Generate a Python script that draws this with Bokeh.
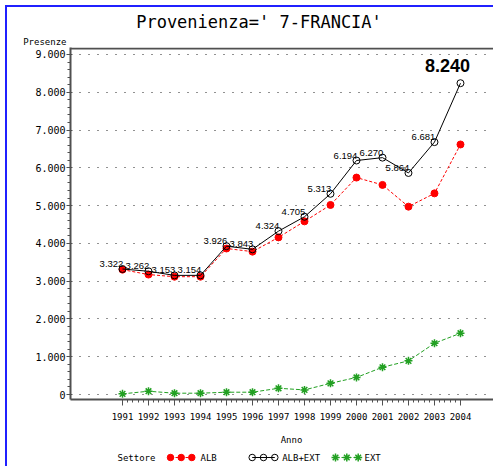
from bokeh.plotting import figure
from bokeh.models import Range1d, FixedTicker, Span
from bokeh.layouts import column
from bokeh.core.properties import value
from bokeh.embed import file_html
from bokeh.resources import INLINE

years = [1991, 1992, 1993, 1994, 1995, 1996, 1997, 1998, 1999, 2000, 2001, 2002, 2003, 2004]
alb_ext = [3322, 3262, 3153, 3154, 3926, 3843, 4324, 4705, 5313, 6194, 6270, 5864, 6681, 8240]
ext = [17, 87, 35, 35, 61, 61, 165, 122, 296, 452, 722, 891, 1357, 1622]
alb = [3305, 3175, 3118, 3119, 3865, 3782, 4159, 4583, 5017, 5742, 5548, 4973, 5324, 6618]
y_ticks = [0, 1000, 2000, 3000, 4000, 5000, 6000, 7000, 8000, 9000]
series_names = ["ALB", "ALB+EXT", "EXT"]
title_text = "Provenienza=' 7-FRANCIA'"
y_title = "Presenze"
x_title = "Anno"
legend_title = "Settore"

RED = "#FF0000"
GREEN = "#22A022"
AXIS = "#505050"
MONO = "DejaVu Sans Mono"
W = 486
LEFT = 63          # border left of every frame
X0 = 7 + LEFT      # page x of frame left
X1 = 7 + W         # page x of frame right

Y_START, Y_END = -132, 9185


def fmt(v):
    return f"{v:,}".replace(",", ".")


def strip(h, with_left_axis=False):
    f = figure(width=W, height=h, x_range=Range1d(X0, X1), y_range=Range1d(0, h),
               output_backend="svg", toolbar_location=None,
               min_border_left=LEFT, min_border_right=0, min_border_top=0, min_border_bottom=0,
               x_axis_location=None, y_axis_location="left" if with_left_axis else None)
    f.grid.visible = False
    f.outline_line_color = None
    return f


# ---------- title strip (page y 7..47) ----------
head = strip(40, with_left_axis=True)
head.text([258.5], [26], text=[title_text], text_font=value(MONO), text_font_size="17px",
          text_align="center", text_baseline="middle", text_color="black")
# the y-axis name sits just above the frame, written as the single label of a bare axis
head.yaxis.ticker = FixedTicker(ticks=[4])
head.yaxis.major_label_overrides = {4: y_title}
head.yaxis.major_label_text_font = MONO
head.yaxis.major_label_text_font_size = "9px"
head.yaxis.major_label_text_color = "black"
head.yaxis.axis_line_color = None
head.yaxis.major_tick_line_color = None
head.yaxis.minor_tick_line_color = None
head.yaxis.major_tick_out = 0
head.yaxis.major_tick_in = 0
head.yaxis.major_label_standoff = 4

# ---------- main plot (page y 47..428) ----------
p = figure(width=W, height=381,
           x_range=Range1d(1989, 2005.27), y_range=Range1d(Y_START, Y_END),
           output_backend="svg", toolbar_location=None,
           min_border_left=LEFT, min_border_right=0,
           min_border_top=0, min_border_bottom=29)
p.outline_line_color = None
p.xgrid.visible = False
p.ygrid.grid_line_color = "#222222"
p.ygrid.grid_line_dash = "1 8"
p.ygrid.grid_line_width = 1

p.yaxis.ticker = FixedTicker(ticks=y_ticks, minor_ticks=list(range(0, 9001, 200)))
p.yaxis.major_label_overrides = {v: fmt(v) for v in y_ticks}
p.yaxis.major_label_text_font = MONO
p.yaxis.major_label_text_font_size = "10px"
p.yaxis.major_label_text_color = "black"
p.yaxis.axis_line_color = AXIS
p.yaxis.axis_line_width = 2
p.yaxis.major_tick_line_color = AXIS
p.yaxis.minor_tick_line_color = AXIS
p.yaxis.major_tick_out = 4
p.yaxis.major_tick_in = 2
p.yaxis.minor_tick_out = 3
p.yaxis.minor_tick_in = 0
p.yaxis.major_label_standoff = 1

p.xaxis.ticker = FixedTicker(ticks=years,
                             minor_ticks=[years[0] + i * 0.2 for i in range(5 * (len(years) - 1) + 1)])
p.xaxis.major_label_text_font = MONO
p.xaxis.major_label_text_font_size = "9px"
p.xaxis.major_label_text_color = "black"
p.xaxis.axis_line_color = AXIS
p.xaxis.axis_line_width = 2
p.xaxis.major_tick_line_color = AXIS
p.xaxis.minor_tick_line_color = AXIS
p.xaxis.major_tick_out = 6
p.xaxis.major_tick_in = 0
p.xaxis.minor_tick_out = 3
p.xaxis.minor_tick_in = 0
p.xaxis.major_label_standoff = 7

# top frame line
p.add_layout(Span(location=9159, dimension="width", line_color=AXIS, line_width=2))

p.line(years, ext, color=GREEN, line_dash="4 2", line_width=1)
p.scatter(years, ext, marker="asterisk", size=8, line_color=GREEN, line_width=1.5)

p.line(years, alb, color=RED, line_dash="3 2", line_width=1)
p.scatter(years, alb, marker="circle", size=7, fill_color=RED, line_color=RED)

p.line(years, alb_ext, color="black", line_width=1)
p.scatter(years, alb_ext, marker="circle", size=7, fill_color=None, line_color="black",
          line_width=1)

p.text(years[:-1], alb_ext[:-1], text=[fmt(v) for v in alb_ext[:-1]],
       text_font=value("Liberation Sans"), text_font_size="9.5px",
       text_align="center", text_baseline="bottom", x_offset=-11, y_offset=-2,
       text_color="black")
p.text(years[-1:], alb_ext[-1:], text=[fmt(v) for v in alb_ext[-1:]],
       text_font=value("Liberation Sans"), text_font_size="18px", text_font_style="bold",
       text_align="center", text_baseline="bottom", x_offset=-13, y_offset=-11,
       text_color="black")

# ---------- bottom strip: x title + legend (page y 428..466) ----------
foot = strip(38)
foot.text([291], [27], text=[x_title], text_font=value(MONO), text_font_size="9px",
          text_align="center", text_baseline="middle", text_color="black")
cy = 9
foot.text([117], [cy], text=[legend_title], text_font=value(MONO), text_font_size="9px",
          text_baseline="middle", text_color="black")
foot.line([170, 191.3], [cy, cy], color=RED, line_dash="3 2")
foot.scatter([170, 180.7, 191.3], [cy] * 3, marker="circle", size=6.5, color=RED)
foot.text([200], [cy], text=[series_names[0]], text_font=value(MONO), text_font_size="9px",
          text_baseline="middle", text_color="black")
foot.line([251.7, 274.3], [cy, cy], color="black")
foot.scatter([251.7, 263, 274.3], [cy] * 3, marker="circle", size=6.5, fill_color=None,
             line_color="black")
foot.text([281.7], [cy], text=[series_names[1]], text_font=value(MONO), text_font_size="9px",
          text_baseline="middle", text_color="black")
foot.line([335, 357.7], [cy, cy], color=GREEN, line_dash="4 2")
foot.scatter([335, 346.3, 357.7], [cy] * 3, marker="asterisk", size=8, line_color=GREEN,
             line_width=1.5)
foot.text([364], [cy], text=[series_names[2]], text_font=value(MONO), text_font_size="9px",
          text_baseline="middle", text_color="black")

layout = column(head, p, foot, styles={"margin-left": "5px", "margin-top": "5px",
                                       "border-left": "2px solid #2020FF",
                                       "border-top": "2px solid #2020FF"})

open("out.html", "w").write(file_html(layout, INLINE))
